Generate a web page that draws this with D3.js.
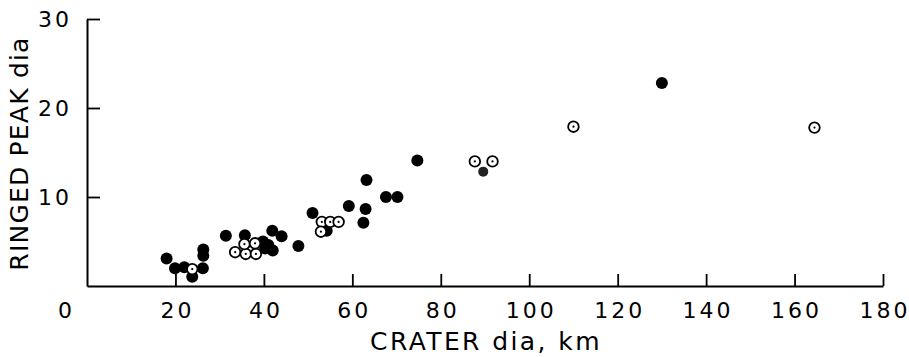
<!DOCTYPE html>
<html>
<head>
<meta charset="utf-8">
<script src="https://cdn.jsdelivr.net/npm/d3@7"></script>
<style>
  body { margin: 0; background: #fff; }
  text { font-family: "DejaVu Sans", sans-serif; fill: #000; }
</style>
</head>
<body>
<svg id="chart" width="909" height="357"></svg>
<script>
// tick values
const xTicks = [0, 20, 40, 60, 80, 100, 120, 140, 160, 180];
const yTicks = [10, 20, 30];

// filled circles: crater dia (km) / ringed peak dia
const filledX = [18, 19.9, 22, 23.8, 26.2, 26.3, 26.3, 31.4, 35.7, 39.8, 40.3, 41, 41.9, 42, 44, 47.8,
  51, 54.2, 59.2, 63.2, 63, 62.5, 67.6, 70.2, 74.7, 130];
const filledY = [3.1, 2.0, 2.1, 1.05, 2.0, 4.1, 3.4, 5.65, 5.7, 5.0, 4.2, 4.6, 6.2, 4.0, 5.6, 4.5,
  8.2, 6.2, 9.0, 11.9, 8.65, 7.1, 10.0, 10.0, 14.1, 22.8];

// open circles with a center dot
const openX = [23.8, 33.5, 35.9, 38.2, 35.6, 38, 53.1, 55, 56.9, 52.9, 87.7, 91.7, 110, 164.5];
const openY = [1.9, 3.8, 3.6, 3.6, 4.7, 4.8, 7.2, 7.2, 7.2, 6.1, 14.0, 14.0, 17.9, 17.8];

// shaded circle
const shadedX = [89.6];
const shadedY = [12.85];

const svg = d3.select('#chart');

const x = d3.scaleLinear().domain([0, 180]).range([87, 883]);
const y = d3.scaleLinear().domain([0, 30]).range([286, 19]);

// axes, ticks pointing inward
const xAxis = svg.append('g')
  .attr('transform', `translate(0,${y(0)})`)
  .call(d3.axisBottom(x).tickValues(xTicks).tickSizeInner(-12).tickSizeOuter(0).tickPadding(16));

const yAxis = svg.append('g')
  .attr('transform', `translate(${x(0)},0)`)
  .call(d3.axisLeft(y).tickValues(yTicks).tickSizeInner(-13).tickSizeOuter(0).tickPadding(15));

[xAxis, yAxis].forEach((g) => {
  g.select('.domain').attr('stroke', '#000').attr('stroke-width', 2);
  g.selectAll('.tick line').attr('stroke', '#000').attr('stroke-width', 1.8);
  g.selectAll('.tick text')
    .attr('fill', '#000')
    .style('font-size', '22px')
    .style('letter-spacing', '3px');
});

xAxis.selectAll('.tick text').attr('dx', 1.5).attr('dy', '0.71em');
xAxis.selectAll('.tick').filter((d) => d === 0).select('line').remove();
xAxis.selectAll('.tick').filter((d) => d === 0).select('text').attr('dx', -21);
yAxis.selectAll('.tick text').attr('dx', 0);

// axis titles
svg.append('text')
  .attr('x', x(90) + 1)
  .attr('y', 350)
  .attr('text-anchor', 'middle')
  .style('font-size', '25px')
  .style('letter-spacing', '2.4px')
  .text('CRATER dia, km');

svg.append('text')
  .attr('transform', `translate(28,${y(15) + 1}) rotate(-90)`)
  .attr('text-anchor', 'middle')
  .style('font-size', '25px')
  .style('letter-spacing', '1.2px')
  .text('RINGED PEAK dia');

// points
const marks = svg.append('g');

marks.selectAll('.filled')
  .data(d3.zip(filledX, filledY))
  .join('circle')
  .attr('class', 'filled')
  .attr('cx', (d) => x(d[0]))
  .attr('cy', (d) => y(d[1]))
  .attr('r', 6)
  .attr('fill', '#000');

marks.selectAll('.shaded')
  .data(d3.zip(shadedX, shadedY))
  .join('circle')
  .attr('class', 'shaded')
  .attr('cx', (d) => x(d[0]))
  .attr('cy', (d) => y(d[1]))
  .attr('r', 5)
  .attr('fill', '#222');

const open = marks.selectAll('.open')
  .data(d3.zip(openX, openY))
  .join('g')
  .attr('class', 'open')
  .attr('transform', (d) => `translate(${x(d[0])},${y(d[1])})`);

open.append('circle')
  .attr('r', 5.3)
  .attr('fill', '#fff')
  .attr('stroke', '#000')
  .attr('stroke-width', 1.8);

open.append('circle')
  .attr('r', 1.1)
  .attr('fill', '#000');
</script>
</body>
</html>
